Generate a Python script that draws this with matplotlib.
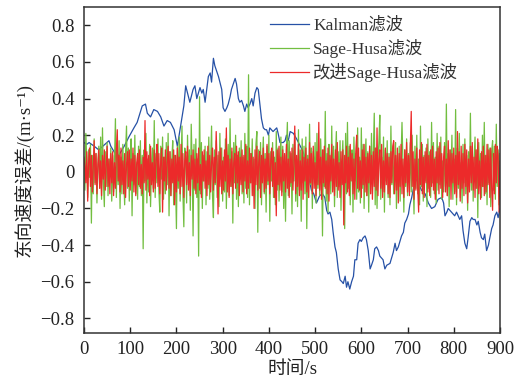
import matplotlib
matplotlib.use("Agg")
import matplotlib.pyplot as plt

plt.rcParams['font.family'] = ['Liberation Serif', 'Noto Sans CJK SC', 'DejaVu Sans']

# ---- data ----
kalman_t = [0, 6, 11, 22, 32, 45, 54, 58, 65, 72, 80, 87, 97, 108, 115, 120, 126, 133, 137, 144,
            151, 159, 166, 173, 180, 187, 195, 202, 209, 216, 220, 222, 229, 236, 240, 244, 251, 255, 258, 262,
            269, 273, 276, 280, 283, 291, 298, 301, 305, 309, 312, 316, 319, 323, 327, 330, 334, 337, 341, 345,
            348, 352, 355, 359, 363, 366, 370, 374, 377, 381, 384, 388, 392, 395, 399, 402, 409, 417, 420, 424,
            431, 435, 438, 442, 446, 453, 460, 466, 472, 478, 484, 488, 492, 497, 503, 510, 516, 521, 525, 528,
            532, 536, 539, 543, 546, 550, 554, 558, 561, 565, 568, 571, 575, 579, 583, 586, 590, 593, 597, 600,
            604, 608, 611, 615, 619, 622, 626, 629, 633, 637, 640, 647, 651, 655, 662, 669, 673, 676, 680, 687,
            691, 694, 698, 702, 705, 709, 712, 716, 720, 725, 730, 738, 745, 752, 759, 766, 774, 778, 781, 785,
            788, 795, 802, 806, 813, 817, 820, 824, 828, 831, 835, 839, 842, 846, 850, 853, 857, 860, 864, 867,
            871, 875, 878, 882, 885, 889, 893, 896, 900]
kalman_v = [0.16, 0.15, 0.16, 0.14, 0.12, 0.15, 0.17, 0.14, 0.11, 0.08, 0.11, 0.14, 0.19, 0.24, 0.27, 0.31, 0.36, 0.37, 0.32, 0.30,
            0.34, 0.33, 0.30, 0.25, 0.28, 0.27, 0.23, 0.14, 0.25, 0.36, 0.47, 0.45, 0.38, 0.45, 0.47, 0.40, 0.46, 0.43, 0.45, 0.38,
            0.52, 0.54, 0.49, 0.62, 0.58, 0.52, 0.45, 0.35, 0.33, 0.35, 0.37, 0.41, 0.45, 0.48, 0.51, 0.48, 0.40, 0.38, 0.39, 0.36,
            0.33, 0.37, 0.35, 0.37, 0.40, 0.36, 0.43, 0.46, 0.45, 0.36, 0.29, 0.24, 0.23, 0.23, 0.20, 0.24, 0.22, 0.24, 0.21, 0.16,
            0.16, 0.17, 0.20, 0.17, 0.22, 0.21, 0.18, 0.15, 0.12, 0.08, 0.02, -0.05, -0.10, -0.12, -0.17, -0.13, -0.12, -0.14, -0.21, -0.23,
            -0.22, -0.26, -0.33, -0.41, -0.44, -0.53, -0.59, -0.60, -0.61, -0.57, -0.63, -0.60, -0.64, -0.60, -0.57, -0.48, -0.48, -0.39, -0.37, -0.38,
            -0.36, -0.35, -0.37, -0.43, -0.53, -0.51, -0.48, -0.42, -0.41, -0.43, -0.46, -0.48, -0.53, -0.51, -0.50, -0.44, -0.39, -0.43, -0.41, -0.35,
            -0.33, -0.28, -0.26, -0.23, -0.18, -0.14, -0.10, -0.06, -0.04, -0.07, -0.10, -0.12, -0.17, -0.20, -0.19, -0.15, -0.14, -0.17, -0.24, -0.22,
            -0.20, -0.22, -0.24, -0.22, -0.26, -0.24, -0.32, -0.39, -0.42, -0.36, -0.27, -0.25, -0.26, -0.26, -0.29, -0.27, -0.33, -0.36, -0.37, -0.34,
            -0.43, -0.40, -0.36, -0.31, -0.29, -0.24, -0.22, -0.25, -0.20]

# Sage-Husa filter error, one value every 2 s (rows of 20 s)
sage_v = [
    0.04, -0.10, 0.21, 0.06, -0.14, 0.12, -0.03, 0.15, -0.28, 0.09,
    -0.12, 0.18, -0.06, 0.10, -0.17, 0.02, 0.14, -0.09, 0.19, -0.15,
    0.24, -0.05, -0.19, 0.11, -0.08, 0.16, -0.13, 0.07, -0.02, 0.13,
    -0.16, 0.09, -0.11, 0.05, 0.29, -0.14, 0.12, -0.07, 0.17, -0.20,
    0.08, -0.12, 0.15, -0.04, -0.18, 0.11, 0.25, -0.09, 0.13, -0.16,
    0.06, 0.18, -0.24, 0.10, -0.07, 0.20, -0.12, 0.04, -0.15, 0.14,
    -0.08, 0.17, -0.13, 0.09, -0.42, 0.12, -0.05, 0.21, -0.17, 0.07,
    -0.11, 0.15, -0.19, 0.03, 0.13, -0.09, 0.28, -0.14, 0.10, -0.06,
    0.18, -0.10, -0.22, 0.14, -0.04, 0.19, -0.15, 0.08, -0.12, 0.16,
    -0.07, 0.21, -0.24, 0.11, -0.13, 0.06, 0.17, -0.18, 0.09, -0.05,
    -0.31, 0.14, -0.09, 0.19, -0.16, 0.05, 0.25, -0.12, -0.30, 0.13,
    0.08, -0.17, 0.20, -0.06, 0.12, -0.21, 0.26, 0.04, -0.35, 0.15,
    -0.10, 0.18, -0.14, 0.07, -0.46, 0.41, -0.12, 0.16, -0.20, 0.09,
    -0.05, 0.14, -0.18, 0.11, -0.09, 0.19, -0.15, 0.06, 0.25, -0.13,
    -0.25, 0.12, -0.07, 0.17, -0.14, 0.09, -0.19, 0.21, -0.04, 0.13,
    -0.16, 0.08, -0.11, 0.18, -0.20, 0.05, 0.15, -0.13, 0.29, -0.08,
    0.11, -0.28, 0.16, -0.06, 0.20, -0.15, 0.09, -0.19, 0.13, -0.03,
    0.17, -0.12, 0.08, -0.17, 0.21, -0.09, 0.14, -0.14, 0.53, -0.18,
    0.10, -0.06, 0.18, -0.13, 0.07, -0.20, 0.15, 0.22, -0.33, 0.12,
    -0.09, 0.16, -0.18, 0.05, 0.19, -0.12, 0.10, -0.22, 0.14, -0.07,
    0.20, -0.27, 0.11, -0.05, 0.16, -0.14, 0.08, -0.18, 0.22, -0.10,
    0.13, -0.16, 0.06, 0.19, -0.11, 0.14, -0.20, 0.09, -0.27, 0.12,
    0.27, -0.13, 0.17, -0.08, 0.10, -0.23, 0.15, -0.05, 0.21, -0.16,
    0.07, -0.19, 0.23, -0.10, 0.12, -0.27, 0.18, -0.06, 0.14, -0.12,
    0.19, -0.31, 0.09, -0.14, 0.26, -0.07, 0.13, -0.20, 0.11, -0.04,
    0.16, -0.17, 0.21, -0.09, 0.07, -0.13, 0.18, 0.03, -0.35, 0.12,
    -0.08, 0.33, -0.16, 0.10, -0.22, 0.15, 0.06, -0.12, 0.25, -0.10,
    0.14, -0.19, 0.08, 0.22, -0.14, 0.11, -0.08, 0.17, -0.21, 0.05,
    0.17, -0.06, -0.31, 0.21, -0.12, 0.27, -0.09, 0.14, -0.18, 0.07,
    0.12, -0.22, 0.19, -0.05, 0.10, -0.15, 0.24, -0.11, 0.08, -0.17,
    0.24, -0.09, 0.15, -0.20, 0.06, 0.18, -0.13, 0.11, -0.22, 0.14,
    -0.07, 0.21, -0.12, 0.09, 0.32, -0.18, 0.13, -0.20, 0.06, 0.16,
    0.31, -0.15, 0.08, -0.11, 0.19, -0.22, 0.12, -0.05, 0.17, -0.14,
    0.10, -0.18, 0.25, -0.07, 0.13, -0.12, 0.06, 0.16, -0.20, 0.09,
    -0.10, 0.14, -0.16, 0.08, 0.27, 0.05, -0.22, 0.12, -0.08, 0.18,
    -0.13, 0.10, -0.06, 0.16, -0.11, 0.20, -0.04, -0.23, 0.14, -0.09,
    0.20, -0.12, 0.07, -0.18, 0.25, -0.08, 0.15, -0.16, 0.09, -0.05,
    0.13, -0.19, 0.18, -0.09, 0.11, -0.14, 0.27, -0.06, 0.16, -0.12,
    0.08, -0.17, 0.21, -0.10, 0.14, -0.07, 0.19, -0.15, 0.06, -0.11,
    0.16, -0.08, 0.37, -0.13, 0.10, -0.19, 0.12, -0.04, 0.20, -0.15,
    0.07, -0.11, 0.34, -0.18, 0.13, -0.09, 0.21, -0.14, 0.05, -0.17,
    0.15, -0.06, 0.18, -0.12, 0.09, -0.21, 0.11, -0.08, 0.32, -0.10,
    0.14, -0.16, 0.07, 0.19, -0.09, 0.12, -0.25, 0.16, -0.05, 0.10,
    -0.14, 0.20, -0.08, 0.27, -0.12, 0.09, -0.18, 0.15, -0.06, 0.13,
    -0.19, 0.11, 0.17, -0.10, 0.14, -0.15, 0.26, -0.08, 0.12, -0.18,
    0.10]

# improved Sage-Husa filter error, one value every 2 s (rows of 20 s)
improved_v = [
    0.08, 0.03, -0.06, 0.11, -0.16, 0.05, 0.13, -0.08, 0.09, -0.11,
    0.02, 0.17, -0.07, 0.10, -0.12, 0.04, 0.12, -0.09, 0.06, -0.13,
    0.09, -0.04, 0.12, -0.10, 0.03, 0.14, -0.08, 0.07, -0.12, 0.10,
    -0.06, 0.11, -0.13, 0.05, -0.09, 0.12, 0.23, -0.05, 0.09, -0.11,
    0.13, -0.07, 0.06, -0.12, 0.10, -0.14, 0.04, 0.11, -0.08, 0.12,
    -0.10, 0.07, -0.05, 0.13, -0.11, 0.09, -0.13, 0.05, 0.10, -0.07,
    0.12, -0.09, 0.04, -0.12, 0.08, -0.06, 0.28, -0.10, 0.11, -0.04,
    0.09, -0.13, 0.14, -0.07, 0.05, -0.11, 0.12, -0.09, 0.07, 0.15,
    -0.08, 0.10, -0.12, 0.06, 0.13, -0.22, 0.08, -0.05, 0.12, -0.10,
    0.05, 0.14, -0.09, 0.11, -0.13, 0.07, -0.06, 0.12, -0.18, 0.09,
    -0.11, 0.13, -0.05, 0.08, -0.12, 0.15, -0.08, 0.10, -0.14, 0.06,
    0.11, -0.07, 0.14, -0.10, 0.05, -0.13, 0.09, -0.04, 0.12, -0.09,
    0.07, -0.12, 0.10, -0.06, 0.13, -0.10, 0.04, -0.14, 0.11, -0.05,
    0.12, -0.09, 0.06, -0.13, 0.14, -0.07, 0.09, -0.11, 0.05, 0.13,
    -0.10, 0.08, -0.06, 0.22, 0.04, -0.23, 0.11, -0.08, 0.13, -0.12,
    0.06, -0.10, 0.12, -0.05, 0.24, -0.11, 0.09, -0.14, 0.07, -0.08,
    0.13, -0.12, 0.05, 0.10, -0.09, 0.14, -0.06, 0.11, -0.13, 0.08,
    -0.07, 0.12, -0.11, 0.09, -0.05, 0.15, -0.12, 0.06, -0.09, 0.13,
    -0.06, 0.10, -0.13, 0.08, -0.20, 0.12, -0.07, 0.14, -0.10, 0.05,
    0.11, -0.14, 0.09, -0.06, 0.13, -0.11, 0.07, -0.09, 0.15, -0.05,
    0.10, -0.12, 0.06, 0.13, -0.08, 0.11, -0.14, 0.05, -0.24, 0.12,
    -0.07, 0.14, -0.10, 0.08, -0.13, 0.12, -0.05, 0.10, -0.11, 0.15,
    -0.09, 0.07, -0.14, 0.11, -0.06, 0.13, -0.10, 0.04, 0.25, -0.12,
    0.09, -0.08, 0.15, -0.13, 0.06, -0.10, 0.12, -0.15, 0.08, -0.05,
    0.13, -0.11, 0.07, -0.14, 0.16, -0.06, 0.10, -0.12, 0.14, -0.09,
    0.05, -0.13, 0.11, -0.07, 0.27, -0.10, 0.08, -0.15, 0.12, -0.06,
    0.14, -0.09, 0.06, -0.12, 0.13, -0.16, 0.09, -0.05, 0.15, -0.11,
    0.07, -0.13, 0.12, -0.08, 0.16, -0.10, 0.05, -0.14, 0.11, -0.07,
    0.12, -0.29, 0.09, -0.06, 0.14, -0.11, 0.08, -0.13, 0.15, -0.05,
    0.10, -0.12, 0.07, -0.15, 0.11, 0.20, -0.09, 0.13, -0.10, 0.06,
    -0.14, 0.12, -0.07, 0.15, -0.11, 0.08, -0.13, 0.10, -0.06, 0.14,
    -0.12, 0.09, -0.15, 0.11, -0.08, 0.13, -0.10, 0.24, -0.13, 0.07,
    0.12, -0.09, 0.15, -0.14, 0.06, -0.11, 0.13, -0.07, 0.10, -0.12,
    0.08, -0.14, 0.11, -0.06, 0.14, 0.17, -0.12, 0.09, -0.10, 0.13,
    -0.17, 0.10, -0.08, 0.15, -0.12, 0.07, -0.14, 0.12, -0.06, 0.16,
    -0.11, 0.09, -0.13, 0.14, 0.33, -0.08, 0.11, -0.15, 0.07, -0.10,
    0.13, -0.09, -0.22, 0.12, -0.07, 0.16, -0.12, 0.08, -0.14, 0.11,
    -0.06, 0.15, -0.11, 0.09, -0.13, 0.12, -0.08, 0.14, -0.10, 0.07,
    -0.15, 0.11, -0.06, 0.13, -0.12, 0.16, -0.09, 0.10, -0.14, 0.08,
    0.14, -0.11, 0.07, -0.13, 0.17, -0.08, 0.12, -0.15, 0.10, -0.06,
    0.13, -0.12, 0.09, -0.14, 0.22, -0.07, 0.11, -0.16, 0.14, -0.09,
    0.10, -0.13, 0.15, -0.08, 0.12, -0.17, 0.07, -0.11, 0.14, -0.06,
    0.16, -0.10, 0.08, -0.14, 0.12, -0.09, 0.18, -0.12, 0.06, -0.15,
    0.11, -0.08, 0.14, -0.13, 0.09, -0.11, 0.15, -0.07, 0.12, -0.14,
    0.13, -0.09, -0.21, 0.10, -0.12, 0.15, -0.06, 0.14, 0.09, -0.22,
    0.06]

sage_t = [2 * i for i in range(len(sage_v))]
improved_t = [2 * i for i in range(len(improved_v))]

series_labels = ['Kalman滤波', 'Sage-Husa滤波', '改进Sage-Husa滤波']
x_ticks = [0, 100, 200, 300, 400, 500, 600, 700, 800, 900]
x_tick_labels = ['0', '100', '200', '300', '400', '500', '600', '700', '800', '900']
y_ticks = [-0.8, -0.6, -0.4, -0.2, 0, 0.2, 0.4, 0.6, 0.8]
y_tick_labels = ['\u22120.8', '\u22120.6', '\u22120.4', '\u22120.2', '0', '0.2', '0.4', '0.6', '0.8']
x_label = '时间/s'
y_label = '东向速度误差/(m·s\u207b\u00b9)'

# ---- plot ----
fig = plt.figure(figsize=(5.23, 3.92), dpi=100)
ax = fig.add_axes([0.1606, 0.1505, 0.7954, 0.8316])

c_blue = '#2651a6'
c_green = '#72be40'
c_red = '#ec2a2a'

ax.plot(kalman_t, kalman_v, color=c_blue, lw=0.9, label=series_labels[0])
ax.plot(sage_t, sage_v, color=c_green, lw=0.9, label=series_labels[1])
ax.plot(improved_t, improved_v, color=c_red, lw=0.9, label=series_labels[2])

ax.set_xlim(0, 900)
ax.set_ylim(-0.88, 0.9)
ax.set_xticks(x_ticks)
ax.set_xticklabels(x_tick_labels)
ax.set_yticks(y_ticks)
ax.set_yticklabels(y_tick_labels)
ax.tick_params(direction='in', length=4, width=1, labelsize=13.5, colors='#222222',
               top=False, right=False)
ax.tick_params(axis='x', pad=6)
ax.tick_params(axis='y', pad=7)
for s in ax.spines.values():
    s.set_linewidth(1.1)
    s.set_color('#333333')

ax.set_xlabel(x_label, fontsize=13.5, color='#222222', labelpad=2)
ax.set_ylabel(y_label, fontsize=13.5, color='#222222', labelpad=4)

leg = ax.legend(loc='upper left', bbox_to_anchor=(0.447, 0.968), frameon=False,
                fontsize=12.5, handlelength=2.25, handletextpad=0.25,
                labelspacing=0.3, borderpad=0, borderaxespad=0)
for t in leg.get_texts():
    t.set_color('#333333')

fig.savefig('out.png', dpi=100)
